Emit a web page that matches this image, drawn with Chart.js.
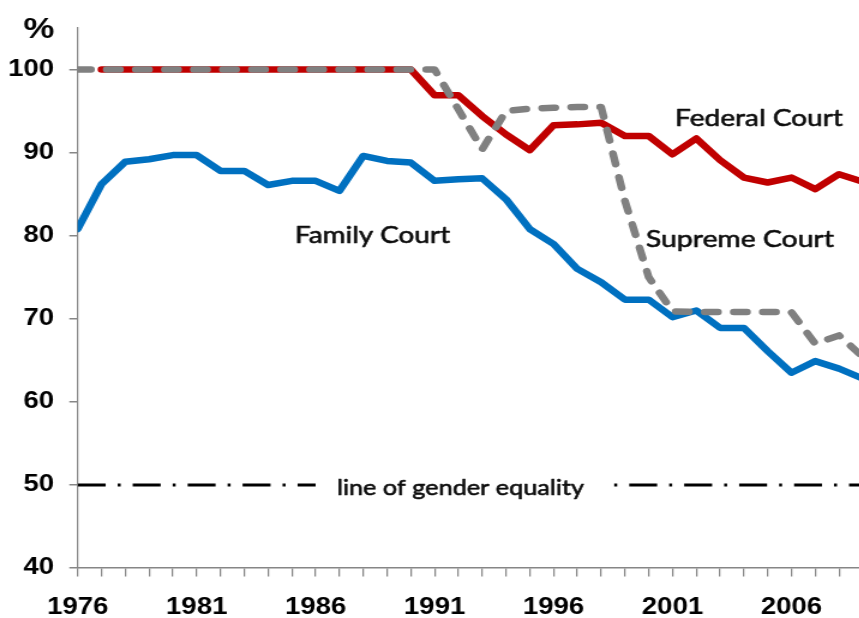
<!DOCTYPE html>
<html>
<head>
<meta charset="utf-8">
<script src="https://cdn.jsdelivr.net/npm/chart.js@4/dist/chart.umd.min.js"></script>
<style>
  html, body { margin: 0; padding: 0; background: #fff; overflow: hidden; }
  #wrap { width: 859px; height: 618px; overflow: hidden; position: relative; }
  #c { position: absolute; left: 0; top: 0; transform: scaleX(1.2); transform-origin: 0 0; }
</style>
</head>
<body>
<div id="wrap"><canvas id="c" width="736" height="618"></canvas></div>
<script>
// ---- data ----
const years = [1976, 1977, 1978, 1979, 1980, 1981, 1982, 1983, 1984, 1985,
               1986, 1987, 1988, 1989, 1990, 1991, 1992, 1993, 1994, 1995,
               1996, 1997, 1998, 1999, 2000, 2001, 2002, 2003, 2004, 2005,
               2006, 2007, 2008, 2009];
const familyCourt = [80.8, 86.2, 88.9, 89.2, 89.7, 89.7, 87.8, 87.8, 86.1, 86.6,
                     86.6, 85.4, 89.6, 89.0, 88.8, 86.6, 86.8, 86.9, 84.4, 80.8,
                     79.0, 76.0, 74.4, 72.3, 72.3, 70.2, 71.0, 68.9, 68.9, 66.1,
                     63.5, 64.9, 64.0, 62.8];
const federalCourt = [null, 100, 100, 100, 100, 100, 100, 100, 100, 100,
                      100, 100, 100, 100, 100, 96.9, 96.9, 94.4, 92.2, 90.3,
                      93.3, 93.4, 93.6, 92.0, 92.0, 89.8, 91.7, 89.1, 87.0, 86.4,
                      87.0, 85.6, 87.4, 86.5];
const supremeCourt = [100, 100, 100, 100, 100, 100, 100, 100, 100, 100,
                      100, 100, 100, 100, 100, 100, 95.2, 90.4, 95.0, 95.3,
                      95.4, 95.5, 95.5, 84.2, 75.0, 70.9, 70.8, 70.8, 70.8, 70.8,
                      70.8, 67.0, 68.0, 65.4];
const equalityValue = 50;
const equalityLeftYears = [1976, 1986];
const equalityRightYears = [1998.55, 2009];
const xLabelYears = [1976, 1981, 1986, 1991, 1996, 2001, 2006];
const yTickValues = [40, 50, 60, 70, 80, 90, 100];

const toPoints = (vals) => years.map((x, i) => ({ x: x, y: vals[i] }));
const eqPoints = (xs) => xs.map(x => ({ x: x, y: equalityValue }));

const tickFont = { family: '"Liberation Sans", Arial, sans-serif', size: 23, weight: 'bold' };
const axisGray = '#868686';
const clipBox = { left: 0, right: 0, top: 8, bottom: 8 };

function fitText(ctx, text, x, y, w) {
  const fam = 'Lato, "Open Sans", sans-serif';
  ctx.font = 'normal 100px ' + fam;
  const m = ctx.measureText(text).width;
  ctx.font = 'normal ' + (100 * w / m).toFixed(2) + 'px ' + fam;
  ctx.fillText(text, x, y);
  ctx.strokeText(text, x, y);
}

const annotations = {
  id: 'annotations',
  afterDatasetsDraw(chart) {
    const ctx = chart.ctx;
    ctx.save();
    ctx.fillStyle = '#000';
    ctx.font = 'bold 29px "Liberation Sans", Arial, sans-serif';
    ctx.textAlign = 'center';
    ctx.textBaseline = 'middle';
    ctx.fillText('%', 32.5, 30);
    ctx.fillStyle = '#0d0d0d';
    ctx.strokeStyle = '#0d0d0d';
    ctx.lineWidth = 0.6;
    ctx.lineJoin = 'round';
    ctx.textAlign = 'left';
    ctx.textBaseline = 'alphabetic';
    fitText(ctx, 'Family Court', 245.8, 243, 129.2);
    fitText(ctx, 'Federal Court', 562.5, 126, 140);
    fitText(ctx, 'Supreme Court', 538.3, 246.5, 156.7);
    fitText(ctx, 'line of gender equality', 280.8, 495, 205.8);
    ctx.restore();
  }
};

new Chart(document.getElementById('c'), {
  type: 'line',
  data: {
    datasets: [
      { label: 'Family Court', data: toPoints(familyCourt), borderColor: '#0070C0',
        borderWidth: 6.5, borderCapStyle: 'round', order: 2, clip: clipBox },
      { label: 'Federal Court', data: toPoints(federalCourt), borderColor: '#C00000',
        borderWidth: 6.5, borderCapStyle: 'round', order: 2, clip: clipBox },
      { label: 'Supreme Court', data: toPoints(supremeCourt), borderColor: '#808080',
        borderWidth: 6.5, borderCapStyle: 'round', borderDash: [11, 13.2], order: 1, clip: clipBox },
      { label: 'line of gender equality', data: eqPoints(equalityLeftYears), borderColor: '#000',
        borderWidth: 3, borderDash: [23.3, 10, 2.5, 10], order: 3, clip: clipBox },
      { label: 'line of gender equality (right)', data: eqPoints(equalityRightYears), borderColor: '#000',
        borderWidth: 3, borderDash: [23.3, 10, 2.5, 10], borderDashOffset: 33.3, order: 3, clip: clipBox }
    ]
  },
  options: {
    responsive: false,
    animation: false,
    layout: { padding: { top: 28, right: 0, left: 0, bottom: 0 } },
    plugins: { legend: { display: false }, tooltip: { enabled: false }, title: { display: false } },
    elements: {
      point: { radius: 0, hoverRadius: 0 },
      line: { tension: 0, borderJoinStyle: 'round', fill: false }
    },
    scales: {
      x: {
        type: 'linear', min: 1976, max: 2009,
        afterBuildTicks: (s) => { s.ticks = years.map(v => ({ value: v })); },
        afterFit: (s) => { s.height = 50; },
        grid: { display: true, drawOnChartArea: false, drawTicks: true, tickLength: 8.4,
                color: axisGray, lineWidth: 1.25 },
        border: { display: true, color: axisGray, width: 1.5 },
        ticks: { autoSkip: false, maxRotation: 0, minRotation: 0, padding: 17, color: '#000',
                 font: tickFont,
                 callback: (v) => xLabelYears.includes(v) ? String(v) : '' }
      },
      y: {
        min: 40, max: 105,
        afterBuildTicks: (s) => { s.ticks = yTickValues.map(v => ({ value: v })); },
        afterFit: (s) => { s.width = 64.75; },
        grid: { display: true, drawOnChartArea: false, drawTicks: true, tickLength: 7,
                color: axisGray, lineWidth: 1.5 },
        border: { display: true, color: axisGray, width: 1.25 },
        ticks: { padding: 12.6, color: '#000', font: tickFont }
      }
    }
  },
  plugins: [annotations]
});
</script>
</body>
</html>
